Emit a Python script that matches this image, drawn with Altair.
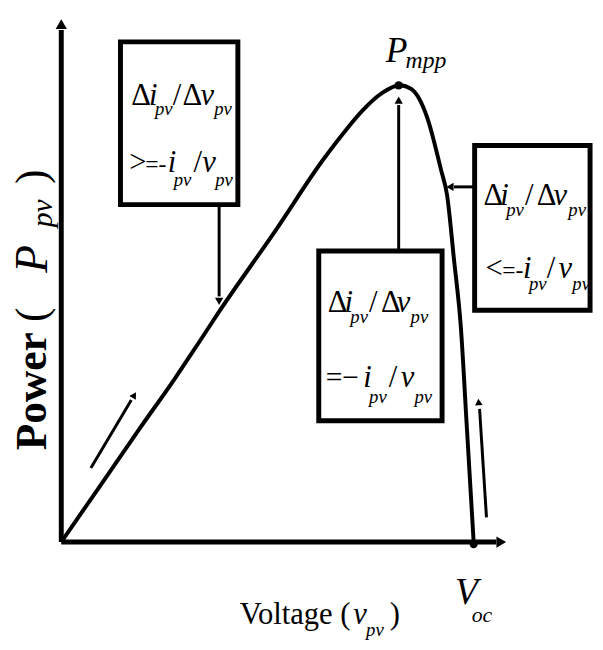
import altair as alt
import pandas as pd

# P-V curve (image pixel coordinates: voltage -> x, power -> y downward)
curve_v = [62, 100, 140, 178, 200, 223, 280, 327, 350, 367, 387, 405, 417, 433, 447, 453, 460, 467, 473, 480]
curve_p = [545, 490, 432, 378, 345, 310, 228, 158, 128, 108, 90, 82, 86, 115, 168, 193, 258, 327, 427, 545]

# key points: MPP and Voc
key_v = [404, 480]
key_p = [82, 547]

# annotation boxes
box_x1 = [122, 323, 481]
box_x2 = [241, 448, 598]
box_y1 = [38, 250, 143]
box_y2 = [203, 422, 310]

# arrow shafts and heads (axes, box pointers, direction arrows)
shaft_x1 = [62, 62, 222, 404, 480, 92, 493]
shaft_y1 = [545, 545, 203, 250, 185, 470, 520]
shaft_x2 = [62, 503, 222, 404, 460, 133, 486]
shaft_y2 = [26, 545, 296, 102, 185, 401, 410]
shaft_w = [5, 5, 3, 3, 3, 3, 3]
head_x = [62, 508, 222, 404, 456, 136, 485]
head_y = [20, 545, 301, 97, 185, 396, 403]
head_angle = [0, 90, 180, 0, 270, 31, 356]
head_size = [130, 130, 70, 70, 70, 60, 60]

# text pieces: (text, x, y, size, style)
texts = [
    # box 1
    ("Δ", 133, 102, 31, "n"), ("i", 151, 102, 31, "i"), ("pv", 157, 112, 19, "i"),
    ("/", 175, 102, 31, "n"), ("Δ", 185, 102, 31, "n"), ("v", 203, 102, 31, "i"), ("pv", 217, 112, 19, "i"),
    (">", 131, 170, 31, "n"), ("=-", 147, 170, 24, "n"), ("i", 170, 170, 31, "i"), ("pv", 176, 184, 19, "i"),
    ("/", 196, 170, 31, "n"), ("v", 205, 170, 31, "i"), ("pv", 218, 184, 19, "i"),
    # box 2
    ("Δ", 332, 312, 31, "n"), ("i", 349, 312, 31, "i"), ("pv", 355, 323, 19, "i"),
    ("/", 374, 312, 31, "n"), ("Δ", 386, 312, 31, "n"), ("v", 402, 312, 31, "i"), ("pv", 416, 323, 19, "i"),
    ("=−", 330, 388, 30, "n"), ("i", 368, 388, 31, "i"), ("pv", 374, 404, 19, "i"),
    ("/", 394, 388, 31, "n"), ("v", 406, 388, 31, "i"), ("pv", 420, 404, 19, "i"),
    # box 3
    ("Δ", 490, 203, 31, "n"), ("i", 507, 203, 31, "i"), ("pv", 513, 215, 19, "i"),
    ("/", 532, 203, 31, "n"), ("Δ", 544, 203, 31, "n"), ("v", 561, 203, 31, "i"), ("pv", 576, 215, 19, "i"),
    ("<", 492, 277, 31, "n"), ("=-", 509, 277, 24, "n"), ("i", 530, 277, 31, "i"), ("pv", 536, 290, 19, "i"),
    ("/", 554, 277, 31, "n"), ("v", 566, 277, 31, "i"), ("pv", 580, 290, 19, "i"),
    # P_mpp and V_oc
    ("P", 391, 58, 36, "i"), ("mpp", 411, 64, 24, "i"),
    ("V", 461, 608, 38, "i"), ("oc", 478, 626, 22, "i"),
    # x axis title
    ("Voltage (", 243, 628, 31, "n"), ("v", 358, 628, 31, "i"), ("pv", 371, 640, 19, "i"), (")", 395, 628, 31, "n"),
]

# rotated y axis title pieces: (text, x, y, size, style)
ytexts = [
    ("Power", 47, 452, 44, "b"), ("(", 47, 322, 44, "n"), ("P", 48, 272, 46, "i"),
    ("pv", 53, 226, 30, "i"), (")", 47, 182, 44, "n"),
]

X = dict(scale=alt.Scale(domain=[8, 603], nice=False, zero=False), axis=None)
Y = dict(scale=alt.Scale(domain=[8, 642], nice=False, zero=False, reverse=True), axis=None)

curve_df = pd.DataFrame({"x": curve_v, "y": curve_p})
key_df = pd.DataFrame({"x": key_v, "y": key_p})
box_df = pd.DataFrame({"x": box_x1, "x2": box_x2, "y": box_y1, "y2": box_y2})
shaft_df = pd.DataFrame({"x": shaft_x1, "y": shaft_y1, "x2": shaft_x2, "y2": shaft_y2, "w": shaft_w})
head_df = pd.DataFrame({"x": head_x, "y": head_y, "a": head_angle, "s": head_size})
text_df = pd.DataFrame(texts, columns=["t", "x", "y", "size", "style"])
ytext_df = pd.DataFrame(ytexts, columns=["t", "x", "y", "size", "style"])

FONT = "Liberation Serif"

boxes = alt.Chart(box_df).mark_rect(fill="white", stroke="black", strokeWidth=5).encode(
    x=alt.X("x:Q", **X), x2="x2:Q", y=alt.Y("y:Q", **Y), y2="y2:Q")

shafts = alt.Chart(shaft_df).mark_rule(color="black").encode(
    x=alt.X("x:Q", **X), y=alt.Y("y:Q", **Y), x2="x2:Q", y2="y2:Q",
    strokeWidth=alt.StrokeWidth("w:Q", scale=None))

heads = alt.Chart(head_df).mark_point(shape="triangle-up", filled=True, color="black", opacity=1).encode(
    x=alt.X("x:Q", **X), y=alt.Y("y:Q", **Y),
    angle=alt.Angle("a:Q", scale=None), size=alt.Size("s:Q", scale=None))

curve = alt.Chart(curve_df).mark_line(color="black", strokeWidth=4, interpolate="monotone").encode(
    x=alt.X("x:Q", **X), y=alt.Y("y:Q", **Y))

keys = alt.Chart(key_df).mark_circle(color="black", size=70, opacity=1).encode(
    x=alt.X("x:Q", **X), y=alt.Y("y:Q", **Y))


def text_layer(df, style, angle=0):
    sub = df[df["style"] == style]
    kw = dict(font=FONT, align="left", baseline="alphabetic", color="black")
    if style == "i":
        kw["fontStyle"] = "italic"
    if style == "b":
        kw["fontWeight"] = "bold"
    if angle:
        kw["angle"] = angle
    return alt.Chart(sub).mark_text(**kw).encode(
        x=alt.X("x:Q", **X), y=alt.Y("y:Q", **Y), text="t:N",
        size=alt.Size("size:Q", scale=None))


layers = [boxes, shafts, heads, curve, keys,
          text_layer(text_df, "n"), text_layer(text_df, "i"),
          text_layer(ytext_df, "b", 270), text_layer(ytext_df, "n", 270), text_layer(ytext_df, "i", 270)]

chart = alt.layer(*layers).properties(
    width=595, height=634, padding=0, autosize=alt.AutoSizeParams(type="none"),
    background="white"
).configure_view(stroke=None)

chart.save("out.html", embed_options={"renderer": "svg", "actions": False})
